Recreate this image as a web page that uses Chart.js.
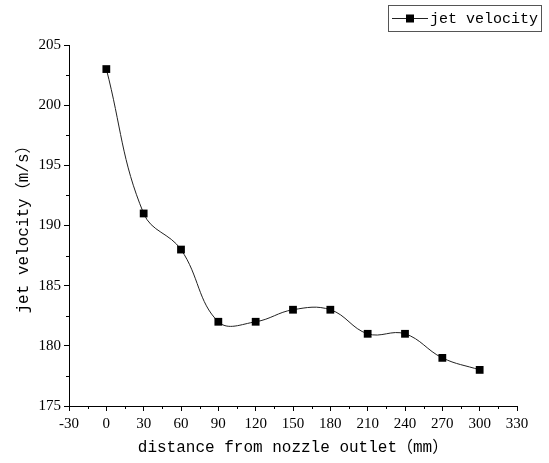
<!DOCTYPE html>
<html lang="en">
<head>
    <meta charset="UTF-8">
    <title>jet velocity</title>
    <script src="https://cdn.jsdelivr.net/npm/chart.js"></script>
    <style>
        html, body { margin: 0; padding: 0; background: #fff; }
        #wrap { width: 549px; height: 463px; }
    </style>
</head>
<body>
    <div id="wrap"><canvas id="jetChart" width="549" height="463"></canvas></div>

    <script>
        const distances = [0, 30, 60, 90, 120, 150, 180, 210, 240, 270, 300];
        const velocities = [203, 191, 188, 182, 182, 183, 183, 181, 181, 179, 178];
        const seriesLabel = 'jet velocity';
        const xTitle = 'distance from nozzle outlet\uFF08mm\uFF09';
        const yTitle = 'jet velocity\uFF08m/s\uFF09';

        const monoFont = '"Liberation Mono", "Noto Sans CJK SC", monospace';
        const tickFont = '"Liberation Serif", "Noto Sans CJK SC", serif';

        // minor ticks halfway between the major ones
        const minorTicks = {
            id: 'minorTicks',
            afterDraw(chart) {
                const ctx = chart.ctx;
                const x = chart.scales.x, y = chart.scales.y;
                ctx.save();
                ctx.strokeStyle = '#000';
                ctx.lineWidth = 1;
                ctx.beginPath();
                for (let v = x.min + 15; v < x.max; v += 30) {
                    const px = Math.round(x.getPixelForValue(v)) + 0.5;
                    ctx.moveTo(px, x.top);
                    ctx.lineTo(px, x.top + 3);
                }
                for (let v = y.min + 2.5; v < y.max; v += 5) {
                    const py = Math.round(y.getPixelForValue(v)) + 0.5;
                    ctx.moveTo(y.right, py);
                    ctx.lineTo(y.right - 3, py);
                }
                ctx.stroke();
                ctx.restore();
            }
        };

        // legend box with a line + marker sample
        const boxLegend = {
            id: 'boxLegend',
            afterDraw(chart) {
                const ctx = chart.ctx;
                const ds = chart.data.datasets[0];
                ctx.save();
                ctx.strokeStyle = '#555';
                ctx.lineWidth = 1;
                ctx.strokeRect(388.5, 5.5, 153, 26);
                ctx.strokeStyle = ds.borderColor;
                ctx.beginPath();
                ctx.moveTo(392, 18.5);
                ctx.lineTo(428, 18.5);
                ctx.stroke();
                ctx.fillStyle = ds.pointBackgroundColor;
                ctx.fillRect(406, 14.5, 8, 8);
                ctx.fillStyle = '#000';
                ctx.font = '15px ' + monoFont;
                ctx.textBaseline = 'middle';
                ctx.fillText(ds.label, 430, 19);
                ctx.restore();
            }
        };

        new Chart(document.getElementById('jetChart'), {
            type: 'line',
            data: {
                datasets: [{
                    label: seriesLabel,
                    data: distances.map((d, i) => ({ x: d, y: velocities[i] })),
                    borderColor: '#222',
                    borderWidth: 1,
                    tension: 0.4,
                    pointStyle: 'rect',
                    pointRadius: 5.5,
                    pointBackgroundColor: '#000',
                    pointBorderColor: '#000',
                    pointBorderWidth: 0,
                    fill: false
                }]
            },
            options: {
                responsive: false,
                animation: false,
                layout: { padding: { top: 45, right: 32, left: 0, bottom: 0 } },
                plugins: { legend: { display: false }, tooltip: { enabled: false } },
                scales: {
                    x: {
                        type: 'linear',
                        min: -30, max: 330,
                        afterFit(s) { s.height = 57; },
                        grid: { drawOnChartArea: false, tickLength: 5, color: '#000', tickColor: '#000' },
                        border: { color: '#000', width: 1 },
                        ticks: { stepSize: 30, color: '#000', padding: 4, maxRotation: 0, font: { family: tickFont, size: 15 } },
                        title: { display: true, text: xTitle, color: '#000', padding: { top: 2, bottom: 6 }, font: { family: monoFont, size: 16 } }
                    },
                    y: {
                        min: 175, max: 205,
                        afterFit(s) { s.width = 69; },
                        grid: { drawOnChartArea: false, tickLength: 5, color: '#000', tickColor: '#000' },
                        border: { color: '#000', width: 1 },
                        ticks: { stepSize: 5, color: '#000', padding: 3, font: { family: tickFont, size: 15 } },
                        title: { display: true, text: yTitle, color: '#000', padding: { top: 14, bottom: 0 }, font: { family: monoFont, size: 16 } }
                    }
                }
            },
            plugins: [minorTicks, boxLegend]
        });
    </script>
</body>
</html>
